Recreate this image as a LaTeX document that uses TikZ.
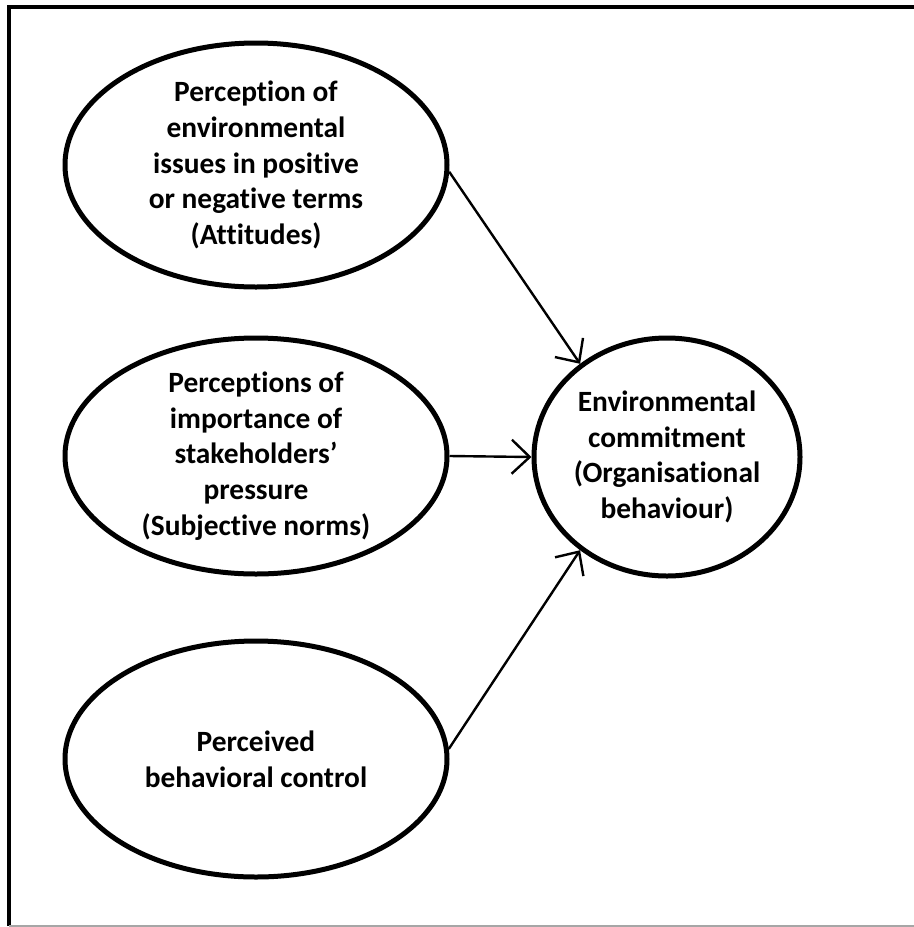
\documentclass[tikz,border=0pt]{standalone}
\usepackage{fontspec}
\setmainfont{Carlito}[Ligatures=NoCommon]
\usepackage{tikz}
\usetikzlibrary{shapes.geometric, arrows.meta}

\tikzset{
  oval/.style={draw, ellipse, line width=2.5pt, inner sep=0pt},
  lbl/.style={align=center, font=\fontsize{14.7}{17.8}\selectfont\bfseries},
  link/.style={line width=1.2pt, -{Straight Barb[length=9pt, width=17pt, line width=1.2pt]}}
}

\begin{document}
\begin{tikzpicture}[x=0.5pt, y=-0.5pt]
    \useasboundingbox (0,0) rectangle (914,927);
    % frame
    \draw[line width=2pt] (9,926) -- (9,6.5) -- (914,6.5);
    \draw[gray!70, line width=1pt] (9,925.5) -- (914,925.5);

    % the three perceptions
    \node[oval, minimum width=191pt, minimum height=122pt] (att) at (256,165) {};
    \node[lbl] (atttext) at (att) {Perception of\\environmental\\issues in positive\\or negative terms\\(Attitudes)};

    \node[oval, minimum width=191pt, minimum height=118pt] (stk) at (256,456) {};
    \node[lbl] (stktext) at (stk) {Perceptions of\\importance of\\stakeholders’\\pressure\\(Subjective norms)};

    \node[oval, minimum width=191pt, minimum height=118pt] (ctl) at (256,759) {};
    \node[lbl] (ctltext) at (ctl) {Perceived\\behavioral control};

    % behaviour
    \node[oval, minimum width=133pt, minimum height=119pt] (env) at (667,457) {};
    \node[lbl] (envtext) at (env) {Environmental\\commitment\\(Organisational\\behaviour)};

    % arrows
    \draw[link] (att.-2) -- (env.133);
    \draw[link] (stk.east) -- (env.west);
    \draw[link] (ctl.3) -- (env.227);
\end{tikzpicture}
\end{document}
